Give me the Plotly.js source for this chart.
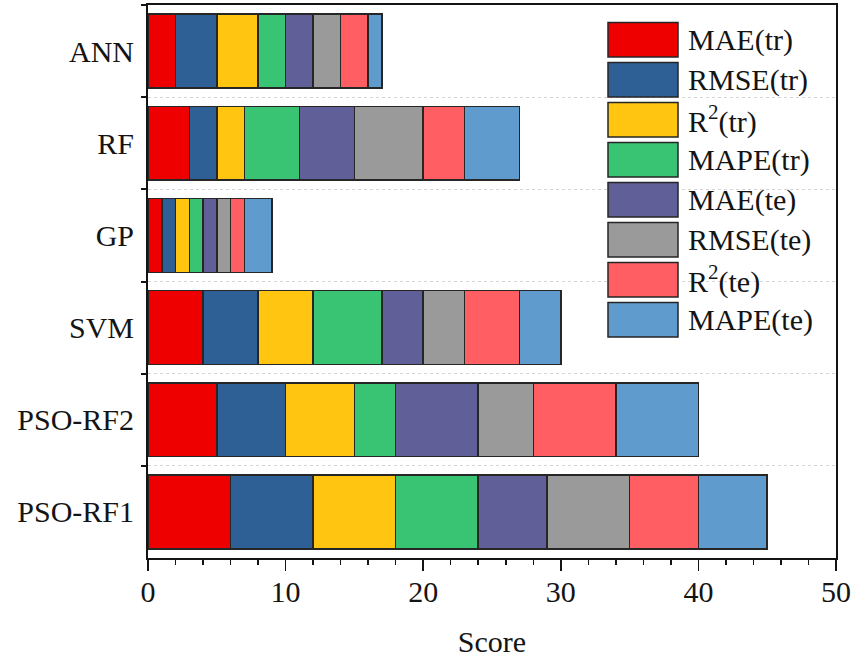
<!DOCTYPE html>
<html>
<head>
<meta charset="utf-8">
<script src="https://cdn.plot.ly/plotly-3.0.1.min.js"></script>
<style>
  html, body { margin: 0; padding: 0; background: #ffffff; }
  #chart { width: 852px; height: 661px; }
</style>
</head>
<body>
<div id="chart"></div>
<script>
// Models, top to bottom
const models = ['ANN', 'RF', 'GP', 'SVM', 'PSO-RF2', 'PSO-RF1'];

// Score of each metric per model (same order as models)
const maeTr   = [2, 3, 1, 4, 5, 6];
const rmseTr  = [3, 2, 1, 4, 5, 6];
const r2Tr    = [3, 2, 1, 4, 5, 6];
const mapeTr  = [2, 4, 1, 5, 3, 6];
const maeTe   = [2, 4, 1, 3, 6, 5];
const rmseTe  = [2, 5, 1, 3, 4, 6];
const r2Te    = [2, 3, 1, 4, 6, 5];
const mapeTe  = [1, 4, 2, 3, 6, 5];

const seriesNames = ['MAE(tr)', 'RMSE(tr)', 'R<sup>2</sup>(tr)', 'MAPE(tr)',
                     'MAE(te)', 'RMSE(te)', 'R<sup>2</sup>(te)', 'MAPE(te)'];
const seriesValues = [maeTr, rmseTr, r2Tr, mapeTr, maeTe, rmseTe, r2Te, mapeTe];
const seriesColors = ['#EE0000', '#2E6096', '#FFC511', '#38C473',
                      '#615F98', '#9A9A9A', '#FF5F62', '#609BCD'];

const FONT = 'Liberation Serif, Times New Roman, serif';
const INK = '#141414';

const traces = seriesValues.map((vals, i) => ({
  type: 'bar',
  orientation: 'h',
  name: seriesNames[i],
  y: models,
  x: vals,
  marker: { color: seriesColors[i], line: { color: '#262626', width: 1.5 } },
  showlegend: false,
  hoverinfo: 'x+name'
}));

// Plot-area geometry in pixels
const W = 852, H = 661;
const M = { l: 148, r: 16, t: 5, b: 103 };
const pw = W - M.l - M.r, ph = H - M.t - M.b;
const px2x = p => (p - M.l) / pw;
const py2y = p => (H - M.b - p) / ph;

// Hand-drawn legend with large swatches
const shapes = [];
const annotations = [];
const swL = 608, swR = 678, swH = 34.5, firstTop = 22.5, step = 40;
seriesNames.forEach((name, i) => {
  const top = firstTop + i * step;
  shapes.push({
    type: 'rect', xref: 'paper', yref: 'paper',
    x0: px2x(swL), x1: px2x(swR), y0: py2y(top + swH), y1: py2y(top),
    fillcolor: seriesColors[i], line: { color: '#262626', width: 1.5 }
  });
  annotations.push({
    xref: 'paper', yref: 'paper', x: px2x(swR + 8), y: py2y(top + swH / 2),
    xanchor: 'left', yanchor: 'middle', showarrow: false,
    text: name, font: { family: FONT, size: 30, color: INK }
  });
});

const layout = {
  width: W, height: H,
  margin: M,
  paper_bgcolor: '#ffffff',
  plot_bgcolor: '#ffffff',
  barmode: 'stack',
  bargap: 0.2,
  font: { family: FONT, size: 30, color: INK },
  xaxis: {
    range: [0, 50],
    dtick: 10,
    tick0: 0,
    ticks: 'outside',
    ticklen: 11,
    tickwidth: 1.5,
    tickcolor: INK,
    minor: { dtick: 2, ticks: 'outside', ticklen: 5, tickwidth: 1.5, tickcolor: INK, showgrid: false },
    showline: true, linecolor: INK, linewidth: 2, mirror: true,
    showgrid: false, zeroline: false,
    ticklabelstandoff: -5,
    tickfont: { family: FONT, size: 30, color: INK },
    title: { text: 'Score', font: { family: FONT, size: 30, color: INK }, standoff: 24 }
  },
  yaxis: {
    type: 'category',
    autorange: 'reversed',
    tickson: 'boundaries',
    ticks: 'outside',
    ticklen: 5,
    tickwidth: 2,
    tickcolor: INK,
    showline: true, linecolor: INK, linewidth: 2, mirror: true,
    showgrid: true, gridcolor: '#d4d4d4', griddash: 'dot', gridwidth: 1,
    zeroline: false,
    ticklabelstandoff: 6,
    tickfont: { family: FONT, size: 30, color: INK }
  },
  shapes: shapes,
  annotations: annotations
};

Plotly.newPlot('chart', traces, layout, { displayModeBar: false, staticPlot: true });
</script>
</body>
</html>
